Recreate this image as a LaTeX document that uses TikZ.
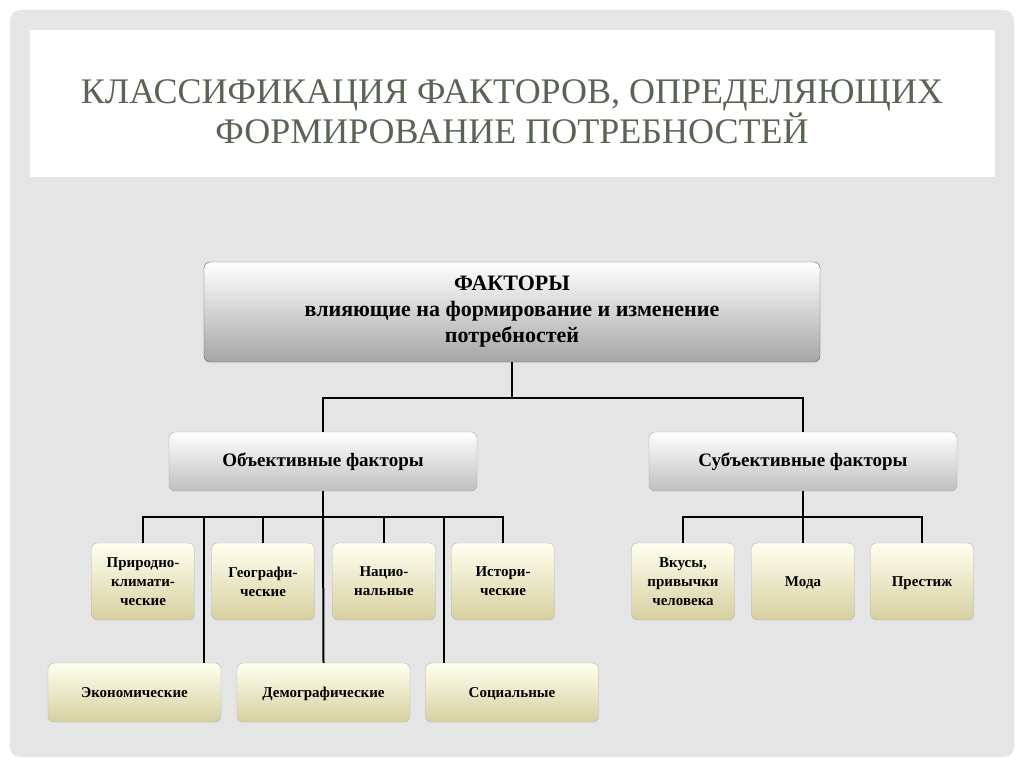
\documentclass[tikz,border=0pt]{standalone}
\usepackage{fontspec}
\setmainfont{Liberation Serif}
\begin{document}
\begin{tikzpicture}[x=1pt,y=-1pt,
  top/.style={draw=gray!70!black,rounded corners=6pt,top color=white,bottom color=black!35,font=\bfseries\fontsize{22}{26}\selectfont,align=center},
  mid/.style={draw=gray!70,rounded corners=6pt,top color=white,bottom color=black!25,font=\bfseries\fontsize{19}{22}\selectfont},
  leaf/.style={draw=gray!60,rounded corners=6pt,top color=yellow!6,bottom color={rgb,255:red,214;green,208;blue,160},font=\bfseries\fontsize{15}{19}\selectfont,align=center,text depth=0pt},
  ln/.style={line width=2pt}]
\useasboundingbox (0,0) rectangle (1024,767);
\fill[white] (0,0) rectangle (1024,767);
\fill[rounded corners=10pt,black!10] (10,10) rectangle (1014,757);
\fill[white] (30,30) rectangle (995,177);
\node[text={rgb,255:red,90;green,100;blue,85},font=\fontsize{36}{40}\selectfont,align=center] (title) at (512,112) {КЛАССИФИКАЦИЯ ФАКТОРОВ, ОПРЕДЕЛЯЮЩИХ\\ФОРМИРОВАНИЕ ПОТРЕБНОСТЕЙ};
\node[top,minimum width=616,minimum height=100] (f) at (512,312) {ФАКТОРЫ\\влияющие на формирование и изменение\\потребностей};
\node[mid,minimum width=308,minimum height=59] (o) at (323,461.5) {Объективные факторы};
\node[mid,minimum width=308,minimum height=59] (s) at (803,461.5) {Субъективные факторы};
\foreach \n/\x/\t in {a/143/{Природно-\\климати-\\ческие},b/263/{Географи-\\ческие},c/384/{Нацио-\\нальные},d/503/{Истори-\\ческие},e/683/{Вкусы,\\привычки\\человека},g/803/{Мода},h/922/{Престиж}}
  \node[leaf,minimum width=103,minimum height=77] (\n) at (\x,581.5) {\t};
\foreach \n/\x/\t in {i/134.5/Экономические,j/323.5/Демографические,k/512/Социальные}
  \node[leaf,minimum width=173,minimum height=59] (\n) at (\x,692.5) {\t};
\coordinate (fy) at (512,398);
\draw[ln] (f.south) -- (fy);
\draw[ln] (o.north) |- (fy) -| (s.north);
\coordinate (oy) at (323,517);
\coordinate (sy) at (803,517);
\draw[ln] (o.south) -- (oy);
\draw[ln] (a.north) |- (oy) -| (d.north);
\draw[ln] (b.north) |- (oy);
\draw[ln] (c.north) |- (oy);
\draw[ln] (oy) -- (j.north);
\draw[ln] (i.north -| 204,0) |- (oy);
\draw[ln] (k.north -| 444,0) |- (oy);
\draw[ln] (s.south) -- (g.north);
\draw[ln] (e.north) |- (sy) -| (h.north);
\end{tikzpicture}
\end{document}
